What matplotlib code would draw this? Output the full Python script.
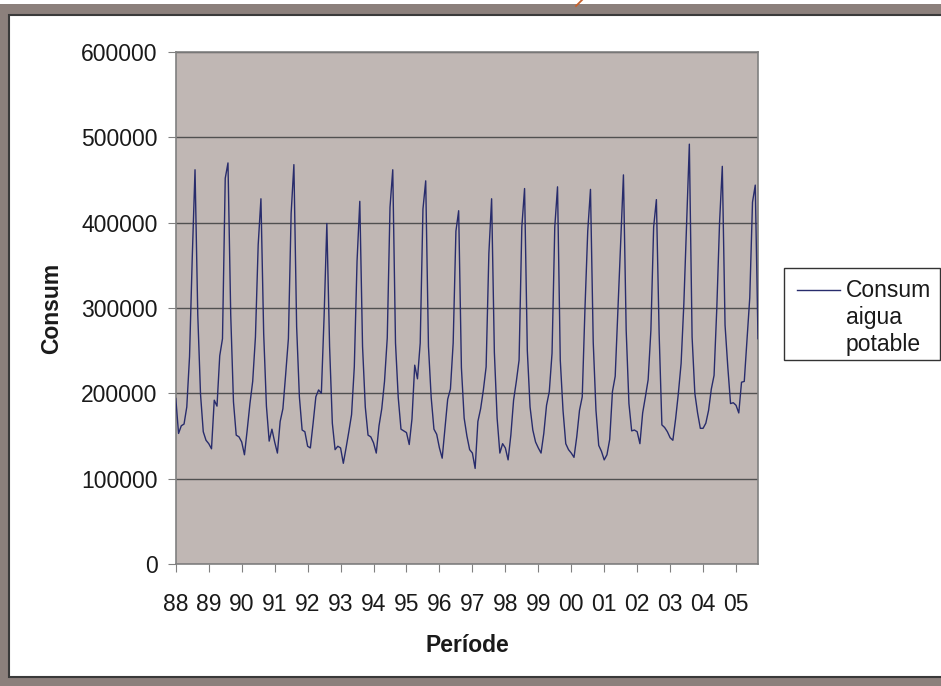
import matplotlib
matplotlib.use('Agg')
import matplotlib.pyplot as plt
from matplotlib.patches import Rectangle
from matplotlib.lines import Line2D

plt.rcParams['font.family'] = ['Liberation Sans', 'DejaVu Sans']

# consum mensual d'aigua potable, gener 1988 - setembre 2005
consum = [
    194000, 153000, 162000, 164000, 184000, 243000, 360000, 462000, 292000, 199000, 155000, 145000,  # 88
    141000, 135000, 192000, 185000, 244000, 264000, 452000, 470000, 292000, 190000, 151000, 149000,  # 89
    143000, 128000, 157000, 188000, 214000, 266000, 374000, 428000, 270000, 185000, 144000, 158000,  # 90
    143000, 130000, 167000, 182000, 222000, 264000, 411000, 468000, 278000, 196000, 157000, 155000,  # 91
    138000, 136000, 165000, 196000, 204000, 200000, 290000, 399000, 255000, 165000, 134000, 138000,  # 92
    136000, 118000, 136000, 155000, 175000, 231000, 355000, 425000, 255000, 184000, 151000, 149000,  # 93
    142000, 130000, 162000, 182000, 214000, 265000, 418000, 462000, 259000, 195000, 158000, 156000,  # 94
    154000, 140000, 170000, 233000, 217000, 259000, 416000, 449000, 255000, 195000, 158000, 152000,  # 95
    136000, 124000, 158000, 193000, 205000, 259000, 390000, 414000, 230000, 171000, 150000, 134000,  # 96
    130000, 112000, 167000, 182000, 204000, 231000, 364000, 428000, 248000, 171000, 130000, 141000,  # 97
    136000, 122000, 151000, 192000, 214000, 239000, 395000, 440000, 250000, 184000, 157000, 143000,  # 98
    136000, 130000, 153000, 186000, 202000, 247000, 395000, 442000, 239000, 180000, 141000, 134000,  # 99
    130000, 125000, 149000, 180000, 196000, 300000, 390000, 439000, 260000, 180000, 139000, 132000,  # 00
    122000, 128000, 146000, 202000, 220000, 299000, 377000, 456000, 274000, 188000, 156000, 157000,  # 01
    155000, 141000, 177000, 196000, 216000, 274000, 395000, 427000, 270000, 163000, 160000, 155000,  # 02
    148000, 145000, 170000, 200000, 235000, 305000, 400000, 492000, 266000, 200000, 177000, 159000,  # 03
    159000, 165000, 180000, 205000, 221000, 300000, 400000, 466000, 280000, 231000, 188000, 189000,  # 04
    186000, 177000, 213000, 214000, 264000, 312000, 424000, 444000, 264000,                          # 05
]
anys = ['88', '89', '90', '91', '92', '93', '94', '95', '96', '97',
        '98', '99', '00', '01', '02', '03', '04', '05']

W, H = 941, 686
FS = 16.5
fig = plt.figure(figsize=(W / 100, H / 100), dpi=100)
fig.patch.set_facecolor('#8c807c')

# marc blanc del grafic
fig.patches.append(Rectangle((0, (H - 4) / H), 1, 4 / H, transform=fig.transFigure,
                             facecolor='white', edgecolor='none', zorder=-2))
fig.patches.append(Rectangle((9 / W, (H - 677) / H), (W + 20) / W, (677 - 15) / H,
                             transform=fig.transFigure, facecolor='white',
                             edgecolor='#3a3a3a', linewidth=1.5, zorder=-2))
fig.lines.append(Line2D([582 / W, 579 / W, 576 / W], [1, 1 - 3 / H, 1 - 6 / H],
                        transform=fig.transFigure, color='#c8602a', linewidth=1.3))

ax = fig.add_axes([175.8 / W, (H - 564) / H, (758 - 175.8) / W, (564 - 52) / H])
ax.set_zorder(2)
ax.set_facecolor('#c0b7b4')
ax.plot(range(len(consum)), consum, color='#282c6c', linewidth=1.0, zorder=3)

ax.set_xlim(0, len(consum) - 1)
ax.set_ylim(0, 600000)
ax.set_yticks(range(0, 600001, 100000))
ax.set_xticks(range(0, len(consum), 12))
ax.set_xticklabels(anys)
ax.grid(axis='y', color='#505050', linewidth=1.0, zorder=1)
ax.set_axisbelow(True)

for s in ax.spines.values():
    s.set_color('#808080')
    s.set_linewidth(1.2)
ax.tick_params(axis='both', direction='out', length=6, color='#808080',
               labelsize=FS, labelcolor='#1a1a1a')
ax.tick_params(axis='x', pad=15)
ax.tick_params(axis='y', pad=7)

fig.text(52 / W, 1 - 308 / H, 'Consum', rotation=90, ha='center', va='center',
         fontsize=FS, fontweight='bold', color='#1a1a1a')
fig.text(467 / W, 1 - 645 / H, 'Període', ha='center', va='center',
         fontsize=FS, fontweight='bold', color='#1a1a1a')

# llegenda
fig.patches.append(Rectangle((784 / W, 1 - 360 / H), (940 - 784) / W, (360 - 268) / H,
                             transform=fig.transFigure, facecolor='white',
                             edgecolor='#333333', linewidth=1.0, zorder=3))
fig.lines.append(Line2D([797 / W, 840 / W], [1 - 290 / H, 1 - 290 / H],
                        transform=fig.transFigure, color='#282c6c', linewidth=1.0, zorder=4))
fig.text(846 / W, 1 - 279 / H, 'Consum\naigua\npotable', ha='left', va='top',
         fontsize=FS, linespacing=1.23, color='#1a1a1a', zorder=4)

fig.savefig('out.png', dpi=100, facecolor=fig.get_facecolor())
